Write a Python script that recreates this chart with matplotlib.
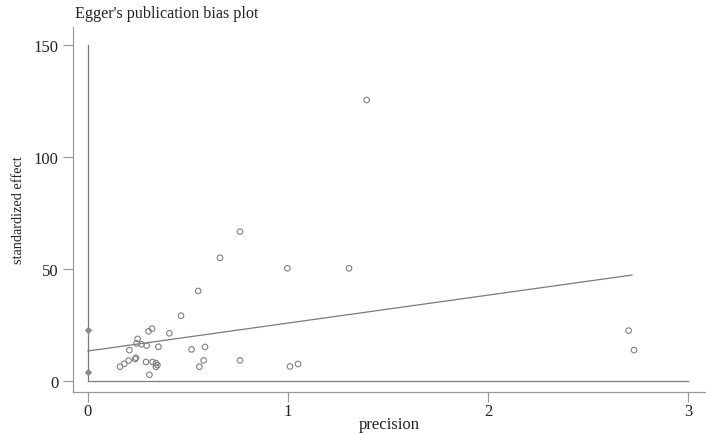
import numpy as np
import matplotlib.pyplot as plt

plt.rcParams['font.family'] = 'serif'
plt.rcParams['font.serif'] = ['Liberation Serif', 'DejaVu Serif']
plt.rcParams['font.size'] = 11

# study points (precision, standardized effect)
precision = [0.551, 0.465, 0.320, 0.303, 0.407, 0.248, 0.243, 0.268, 0.293,
             0.352, 0.207, 0.518, 0.585, 0.240, 0.235, 0.160, 0.182, 0.203,
             0.290, 0.323, 0.340, 0.347, 0.340, 0.307, 0.578, 0.557, 0.760,
             0.660, 0.997, 0.760, 1.010, 1.050, 1.393, 1.305, 2.703, 2.730]
std_effect = [40.2, 29.2, 23.4, 22.2, 21.3, 18.8, 16.8, 16.4, 15.8,
              15.3, 13.8, 14.1, 15.2, 10.4, 9.8, 6.4, 7.7, 9.1,
              8.5, 8.5, 8.0, 7.1, 6.3, 2.8, 9.2, 6.4, 66.7,
              55.0, 50.3, 9.2, 6.5, 7.6, 125.4, 50.3, 22.5, 13.8]

# fitted line end points
fit_x = [0, 2.72]
fit_y = [13.4, 47.3]

# intercept confidence limits shown at precision 0
ci_y = [4.0, 22.8]

fig = plt.figure(figsize=(7.06, 4.35), dpi=100)
ax = fig.add_axes([73/706, 42/435, 633/706, 365/435])

line_c = '#7a7a7a'
ax.plot([0, 0], [0, 150], color=line_c, lw=0.9)
ax.plot([0, 3.0], [0, 0], color=line_c, lw=0.9)
ax.plot(fit_x, fit_y, color=line_c, lw=0.9)
ax.scatter(precision, std_effect, s=16, facecolors='none',
           edgecolors='#808080', linewidths=0.8, zorder=3)
ax.scatter([0, 0], ci_y, marker='D', s=8, color='#8a8a8a', zorder=3)

ax.set_xlim(-0.075, 3.09)
ax.set_ylim(-4.9, 158)
ax.set_xticks([0, 1, 2, 3])
ax.set_yticks([0, 50, 100, 150])

for s in ('top', 'right'):
    ax.spines[s].set_visible(False)
for s in ('left', 'bottom'):
    ax.spines[s].set_color('#999999')
    ax.spines[s].set_linewidth(0.9)
ax.tick_params(colors='#999999', labelcolor='#222222', length=7, width=0.9,
               labelsize=12)
ax.tick_params(axis='x', pad=1.0)

ax.set_xlabel('precision', color='#222222', fontsize=12, labelpad=-2)
ax.set_ylabel('standardized effect', color='#222222', fontsize=10.3,
              labelpad=6)
fig.text(75/706, 1 - 14/435, "Egger's publication bias plot",
         ha='left', va='center', color='#222222', fontsize=11.6)

fig.savefig('out.png', dpi=100)
